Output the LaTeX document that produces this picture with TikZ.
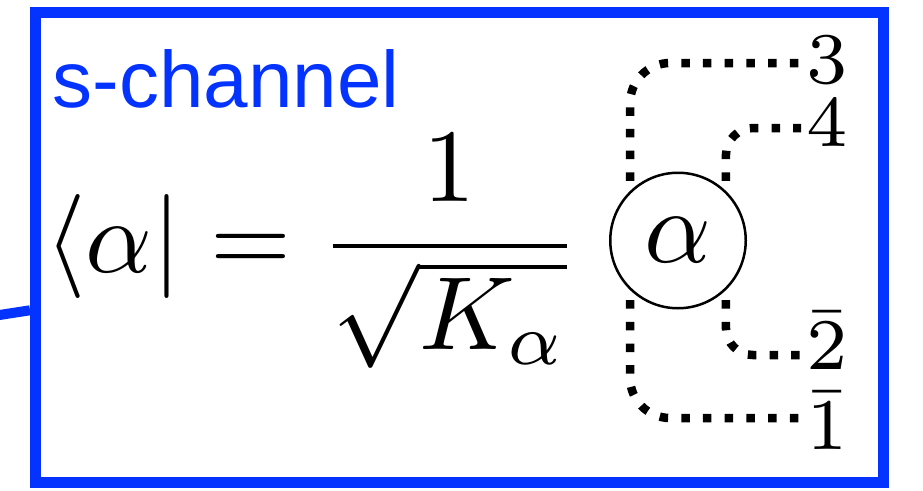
\RequirePackage{fix-cm}
\documentclass[tikz,border=0pt]{standalone}
\usepackage{graphicx}
\usepackage{fontspec}
\newfontfamily\labelsans{Liberation Sans}
\definecolor{boxblue}{RGB}{4,51,255}
\newcommand\sbx[1]{\scalebox{10.4}{#1}}
\tikzset{
  frame/.style={draw=boxblue, line width=11pt, minimum width=847.8pt, minimum height=469.5pt, inner sep=0pt},
  link/.style={draw=boxblue, line width=10pt},
  titletext/.style={anchor=base west, inner sep=0pt, text=boxblue, font=\labelsans\fontsize{80}{90}\selectfont},
  eqn/.style={anchor=base west, inner sep=0pt, font=\fontsize{10}{12}\selectfont},
  blob/.style={circle, draw, line width=2.5pt, minimum size=135.5pt, inner sep=0pt, font=\fontsize{10}{12}\selectfont},
  leg/.style={anchor=base west, inner sep=0pt, font=\fontsize{10}{12}\selectfont},
  dotline/.style={line width=8.5pt, dash pattern=on 8.5pt off 13.2pt, dash phase=11.7pt},
}
\begin{document}
\begin{tikzpicture}[x=1pt,y=-1pt]
  \useasboundingbox (0,0) rectangle (923,490);
  \fill[white] (0,0) rectangle (923,490);
  % frame and incoming connector
  \coordinate (ext) at (-20,318);
  \path (459.4,247.25) node[frame] (box) {};
  \draw[link] (ext) -- (box);
  % title
  \node[titletext] (title) at (52.5,107) {s-channel};
  % equation
  \node[eqn] (eq) at (45,272) {\sbx{$\displaystyle \langle\alpha| = \frac{1}{\sqrt{K_\alpha}}$}};
  % circle
  \node[blob] (alpha) at (678,240.5) {\sbx{$\alpha$}};
  % legs
  \node[leg] (l3) at (806.5,83.5) {\sbx{$\scriptstyle 3$}};
  \node[leg] (l4) at (806.5,146) {\sbx{$\scriptstyle 4$}};
  \node[leg] (l2) at (806.5,369) {\sbx{$\scriptstyle \bar{2}$}};
  \node[leg] (l1) at (806.5,449) {\sbx{$\scriptstyle \bar{1}$}};
  \coordinate (e3) at (801,63);
  \coordinate (e4) at (801,128);
  \coordinate (e2) at (801,355);
  \coordinate (e1) at (801,418);
  \draw[dotline, rounded corners=40pt] (alpha.134) |- (e3);
  \draw[dotline, rounded corners=27pt] (alpha.46) |- (e4);
  \draw[dotline, rounded corners=27pt] (alpha.-46) |- (e2);
  \draw[dotline, rounded corners=40pt] (alpha.-134) |- (e1);
\end{tikzpicture}
\end{document}
